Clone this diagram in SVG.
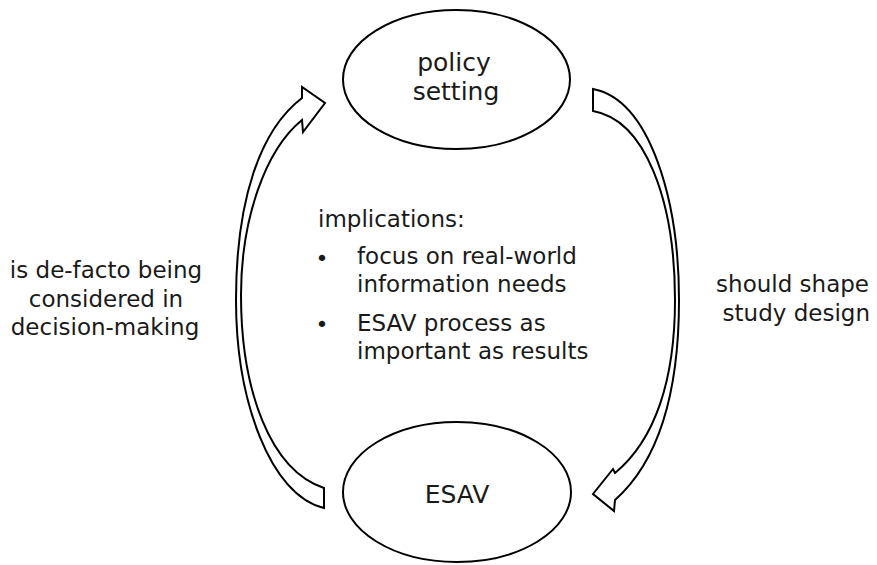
<svg xmlns="http://www.w3.org/2000/svg" width="877" height="565" viewBox="0 0 877 565">
<style>
  .t { font-family: "DejaVu Sans", "Open Sans", sans-serif; font-size: 23px; fill: #1a1a1a; }
  .n { font-size: 25px; }
  .b { font-size: 22px; }
  .c { text-anchor: middle; }
  .e { text-anchor: end; }
  .shape { fill: #ffffff; stroke: #000000; stroke-width: 2; stroke-linejoin: miter; }
</style>
<rect width="877" height="565" fill="#ffffff"/>
<g id="connectors">
  <path id="arrow-esav-to-policy" class="shape" d="M324,508 C270,495 236,400 236,300 C236,200 260,130 302,98 L302,87 L325,103 L303,132 L302,120 C265,150 241,220 241,295 C241,390 270,470 324,488 Z"/>
  <path id="arrow-policy-to-esav" class="shape" d="M593,89 C650,100 679,200 679,300 C679,390 660,460 615,500 L614,511 L593,494 L613,469 L615,473 C655,440 675,380 675,300 C675,200 645,120 593,111 Z"/>
</g>
<g id="policy-setting">
  <ellipse class="shape" cx="456.5" cy="79.5" rx="113.5" ry="69.5"/>
  <text class="t n c"><tspan x="454" y="71">policy</tspan><tspan x="456" y="100">setting</tspan></text>
</g>
<g id="esav">
  <ellipse class="shape" cx="457" cy="492" rx="114" ry="70"/>
  <text class="t n c" x="457" y="503">ESAV</text>
</g>
<g id="implications">
  <text class="t"><tspan x="318" y="227">implications:</tspan><tspan x="357" y="264">focus on real-world</tspan><tspan x="357" y="292">information needs</tspan><tspan x="357" y="331">ESAV process as</tspan><tspan x="357" y="359">important as results</tspan></text>
  <text class="t b c"><tspan x="322" y="265.5">•</tspan><tspan x="322" y="331.5">•</tspan></text>
</g>
<g id="label-left">
  <text class="t c"><tspan x="106" y="278">is de-facto being</tspan><tspan x="106" y="307">considered in</tspan><tspan x="105" y="335">decision-making</tspan></text>
</g>
<g id="label-right">
  <text class="t e"><tspan x="869" y="292">should shape</tspan><tspan x="870" y="321">study design</tspan></text>
</g>
</svg>
